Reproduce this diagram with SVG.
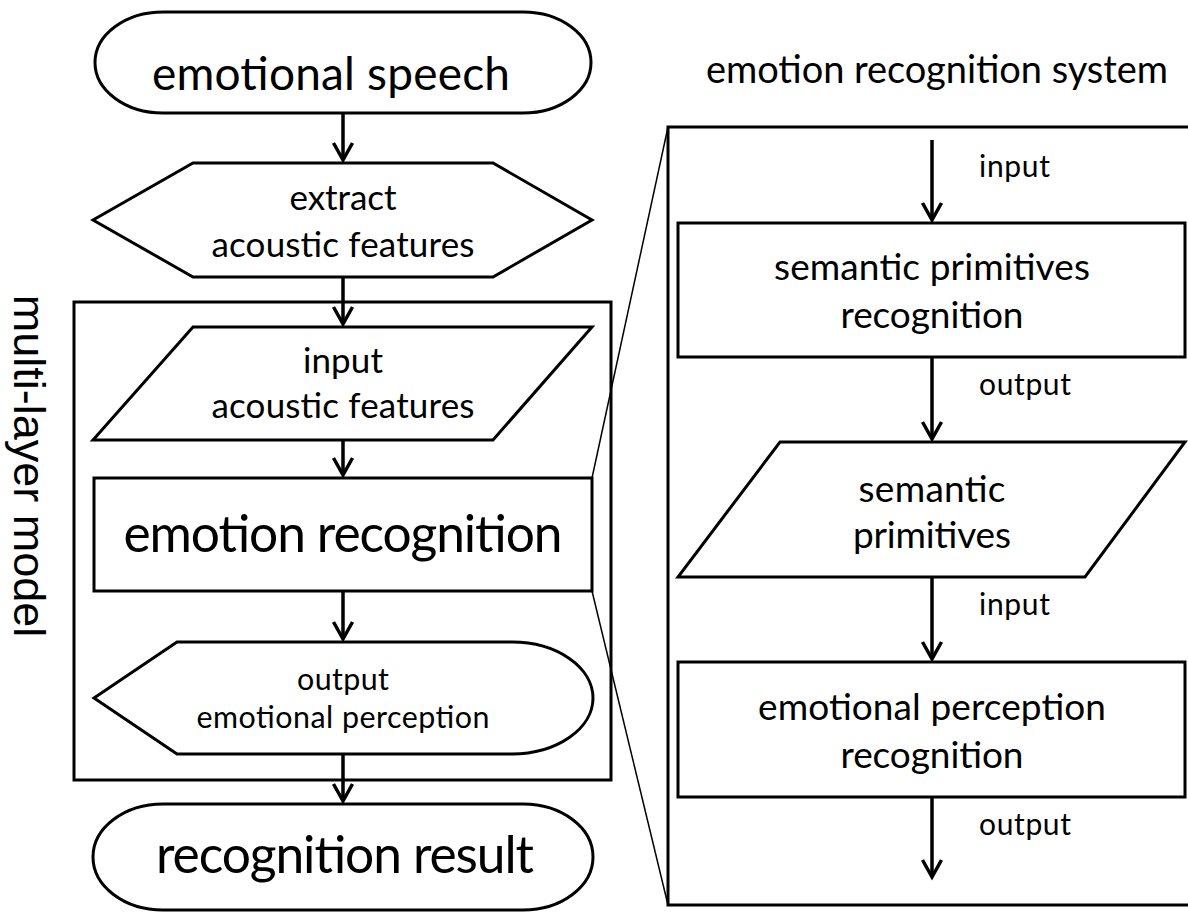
<svg xmlns="http://www.w3.org/2000/svg" width="1188" height="916" viewBox="0 0 1188 916">
<style>
.shape{fill:#fff;stroke:#000;stroke-width:3}
.frame{fill:none;stroke:#000;stroke-width:3}
.arrow{stroke:#000;stroke-width:3.5;fill:none;marker-end:url(#ah)}
.zoom{stroke:#000;stroke-width:1.5;fill:none}
.t{font-family:Lato,"Open Sans",sans-serif;fill:#000;text-anchor:middle}
.lbl{font-family:Lato,"Open Sans",sans-serif;fill:#000;font-size:30px}
</style>
<defs>
<marker id="ah" markerUnits="userSpaceOnUse" viewBox="-22 -14 26 28" markerWidth="26" markerHeight="28" refX="0" refY="0" orient="auto" overflow="visible">
<path d="M-17,-9.5 L0,0 L-17,9.5" fill="none" stroke="#000" stroke-width="3.5"/>
</marker>
</defs>
<rect width="1188" height="916" fill="#fff"/>

<g id="multi-layer-model">
<rect class="frame" x="74" y="302" width="537" height="478"/>
<text font-family="'Liberation Sans',Arial,sans-serif" font-size="45" text-anchor="middle" transform="translate(14,466) rotate(90)">multi-layer model</text>
</g>

<g id="emotion-recognition-system">
<rect class="frame" x="668" y="127" width="540" height="778"/>
<text font-family="Lato,'Open Sans',sans-serif" font-size="38" x="706" y="83" textLength="462">emotion recognition system</text>
</g>

<g id="connectors">
<line class="arrow" x1="343" y1="113" x2="343" y2="160"/>
<line class="arrow" x1="343" y1="277" x2="343" y2="324"/>
<line class="arrow" x1="343" y1="440" x2="343" y2="475"/>
<line class="arrow" x1="343" y1="591" x2="343" y2="639"/>
<line class="arrow" x1="343" y1="754" x2="343" y2="801"/>
<line class="arrow" x1="932" y1="140" x2="932" y2="220"/>
<line class="arrow" x1="932" y1="357" x2="932" y2="439"/>
<line class="arrow" x1="932" y1="577" x2="932" y2="659"/>
<line class="arrow" x1="932" y1="797" x2="932" y2="877"/>
<line class="zoom" x1="592" y1="478" x2="668" y2="127"/>
<line class="zoom" x1="592" y1="591" x2="668" y2="905"/>
<text class="lbl" x="979" y="177" textLength="71">input</text>
<text class="lbl" x="979" y="395" textLength="92">output</text>
<text class="lbl" x="979" y="615" textLength="71">input</text>
<text class="lbl" x="979" y="835" textLength="92">output</text>
</g>

<g id="emotional-speech">
<path class="shape" d="M163,12 H523 A68,50.5 0 0 1 523,113 H163 A68,50.5 0 0 1 163,12 Z"/>
<text class="t" x="331" y="90" font-size="46" textLength="358">emotional speech</text>
</g>

<g id="extract-acoustic-features">
<polygon class="shape" points="93,220 193,163 493,163 592,220 493,277 193,277"/>
<text class="t" x="343" y="210" font-size="35" textLength="107">extract</text>
<text class="t" x="343" y="257" font-size="35" textLength="263">acoustic features</text>
</g>

<g id="input-acoustic-features">
<polygon class="shape" points="193,327 592,327 493,440 93,440"/>
<text class="t" x="343" y="373" font-size="35" textLength="80">input</text>
<text class="t" x="343" y="418" font-size="35" textLength="263">acoustic features</text>
</g>

<g id="emotion-recognition">
<rect class="shape" x="94" y="478" width="498" height="113"/>
<text class="t" x="343" y="552" font-size="51.5" textLength="439">emotion recognition</text>
</g>

<g id="output-emotional-perception">
<path class="shape" d="M94,698 L177,642 H512 A81,56 0 0 1 512,754 H177 Z"/>
<text class="t" x="343" y="690" font-size="30.4" textLength="92">output</text>
<text class="t" x="343" y="728" font-size="30.4" textLength="293">emotional perception</text>
</g>

<g id="recognition-result">
<path class="shape" d="M163,804 H523 A70,53 0 0 1 523,910 H163 A70,53 0 0 1 163,804 Z"/>
<text class="t" x="345" y="873" font-size="51.5" textLength="378">recognition result</text>
</g>

<g id="semantic-primitives-recognition">
<rect class="shape" x="678" y="223" width="507" height="134"/>
<text class="t" x="932" y="280" font-size="37" textLength="316">semantic primitives</text>
<text class="t" x="932" y="328" font-size="37" textLength="183">recognition</text>
</g>

<g id="semantic-primitives">
<polygon class="shape" points="780,442 1185,442 1085,577 678,577"/>
<text class="t" x="932" y="502" font-size="37" textLength="147">semantic</text>
<text class="t" x="932" y="548" font-size="37" textLength="158">primitives</text>
</g>

<g id="emotional-perception-recognition">
<rect class="shape" x="678" y="662" width="507" height="135"/>
<text class="t" x="932" y="720" font-size="37" textLength="348">emotional perception</text>
<text class="t" x="932" y="768" font-size="37" textLength="183">recognition</text>
</g>
</svg>
